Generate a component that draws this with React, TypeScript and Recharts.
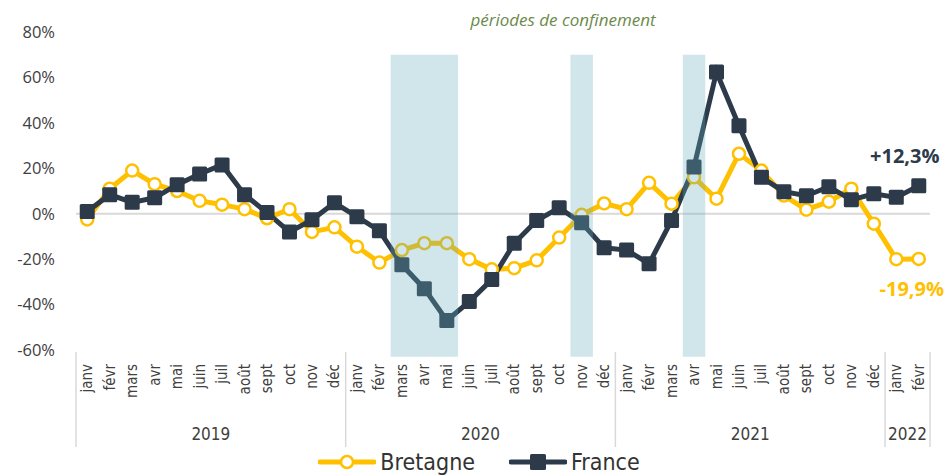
import React from 'react';
import {
  LineChart,
  Line,
  XAxis,
  YAxis,
  ReferenceArea,
  ReferenceLine,
} from 'recharts';

const monthNames = ['janv', 'févr', 'mars', 'avr', 'mai', 'juin', 'juil', 'août', 'sept', 'oct', 'nov', 'déc'];
const years = ['2019', '2020', '2021', '2022'];
const monthsPerYear = [12, 12, 12, 2];

// variation annuelle, en %
const bretagne = [
  -2.5, 11, 19, 13, 10, 5.7, 4, 2, -2, 2, -8, -6,
  -14.5, -21.5, -16, -13, -13, -20, -24.5, -24, -20.5, -10.5, -0.5, 4.5,
  2, 13.6, 4.4, 16, 6.6, 26.4, 19, 8, 1.8, 5.3, 11, -4.4,
  -20, -19.9,
];
const france = [
  1, 8.4, 5, 7, 12.8, 17.5, 21.5, 8.4, 0.5, -8, -2.7, 4.8,
  -1.3, -7.5, -22.5, -33, -47, -38.7, -29, -13, -3, 2.6, -4, -15,
  -16, -22, -3, 20.6, 62.4, 38.7, 16, 9.7, 7.9, 11.9, 6.1, 8.8,
  7.2, 12.3,
];
const yTicks = [-60, -40, -20, 0, 20, 40, 60, 80];
const lockdowns = [
  ['mars 2020', 'mai 2020'],
  ['nov 2020', 'nov 2020'],
  ['avr 2021', 'avr 2021'],
];
const lastLabels = { bretagne: '-19,9%', france: '+12,3%' };

const W = 946;
const H = 476;
const margin = { top: 32, right: 16, bottom: 0, left: 16 };
const yAxisWidth = 60;

const data = years.flatMap((year, yi) =>
  monthNames.slice(0, monthsPerYear[yi]).map((m, mi) => {
    const i = yi * 12 + mi;
    return { key: `${m} ${year}`, month: m, year, bretagne: bretagne[i], france: france[i] };
  })
);

const plotWidth = W - margin.left - margin.right - yAxisWidth;
const bw = plotWidth / data.length;

const YELLOW = '#FFC000';
const DARK = '#2D3A4A';
const NARROW = '"DejaVu Sans Condensed", "Open Sans", sans-serif';

const MonthTick = (props: any) => {
  const { x, y, payload } = props;
  const i = payload.index;
  const row = data[i];
  const els: React.ReactNode[] = [];
  els.push(
    <text
      key="m"
      transform={`translate(${x},${y + 6}) rotate(-90)`}
      textAnchor="end"
      dominantBaseline="central"
      fontFamily={NARROW}
      fontSize={15}
      fill="#404040"
    >
      {row.month}
    </text>
  );
  const yi = years.indexOf(row.year);
  if (monthNames.indexOf(row.month) === 0) {
    const start = x - bw / 2;
    els.push(<line key="d" x1={start} x2={start} y1={y - 6} y2={y + 89} stroke="#d9d9d9" strokeWidth={1.5} />);
    els.push(
      <text
        key="y"
        x={start + (monthsPerYear[yi] * bw) / 2}
        y={y + 76}
        textAnchor="middle"
        dominantBaseline="central"
        fontFamily={NARROW}
        fontSize={17}
        fill="#404040"
      >
        {row.year}
      </text>
    );
  }
  if (i === data.length - 1) {
    els.push(<line key="e" x1={x + bw / 2} x2={x + bw / 2} y1={y - 6} y2={y + 89} stroke="#d9d9d9" strokeWidth={1.5} />);
  }
  return <g>{els}</g>;
};

const SquareDot = (props: any) => {
  const { cx, cy } = props;
  if (cx == null || cy == null) return null;
  return <rect x={cx - 7.5} y={cy - 7.5} width={15} height={15} rx={1.5} fill={DARK} />;
};

const endLabel = (text: string, color: string, dx: number, dy: number) => (props: any) => {
  const { x, y, index } = props;
  if (index !== data.length - 1) return null;
  return (
    <text
      x={x + dx}
      y={y + dy}
      textAnchor="middle"
      dominantBaseline="central"
      fontFamily='"Open Sans", sans-serif'
      fontWeight={700}
      fontSize={20}
      fill={color}
    >
      {text}
    </text>
  );
};

const ChartLegend = () => (
  <div
    style={{
      position: 'absolute',
      top: 449,
      left: 0,
      width: W,
      paddingLeft: 12,
      boxSizing: 'border-box',
      display: 'flex',
      justifyContent: 'center',
      alignItems: 'center',
      fontFamily: NARROW,
      fontSize: 23,
      color: '#333',
      lineHeight: '26px',
    }}
  >
    <svg width={58} height={20} style={{ marginRight: 4 }}>
      <line x1={2} x2={56} y1={10} y2={10} stroke={YELLOW} strokeWidth={5} strokeLinecap="round" />
      <circle cx={29} cy={10} r={6} fill="#fff" stroke={YELLOW} strokeWidth={2.5} />
    </svg>
    <span style={{ marginRight: 34 }}>Bretagne</span>
    <svg width={58} height={20} style={{ marginRight: 4 }}>
      <line x1={2} x2={56} y1={10} y2={10} stroke={DARK} strokeWidth={5} strokeLinecap="round" />
      <rect x={21} y={2} width={16} height={16} rx={1.5} fill={DARK} />
    </svg>
    <span>France</span>
  </div>
);

export default function App() {
  return (
    <div style={{ position: 'absolute', left: 0, top: 0, width: W, height: H, background: '#fff', overflow: 'hidden' }}>
      <div
        style={{
          position: 'absolute',
          top: 8,
          left: 0,
          width: W,
          paddingLeft: 180,
          boxSizing: 'border-box',
          textAlign: 'center',
          fontFamily: '"Open Sans", sans-serif',
          fontStyle: 'italic',
          fontSize: 17,
          color: '#6b8a4a',
        }}
      >
        périodes de confinement
      </div>
      <LineChart width={W} height={H} data={data} margin={margin}>
        <XAxis
          dataKey="key"
          scale="band"
          interval={0}
          tick={<MonthTick />}
          tickLine={false}
          axisLine={false}
          height={126}
        />
        <YAxis
          domain={[-60, 80]}
          ticks={yTicks}
          tickFormatter={(v: number) => `${v}%`}
          tickLine={false}
          axisLine={false}
          tickMargin={15}
          width={yAxisWidth}
          tick={{ fontFamily: '"Open Sans", sans-serif', fontSize: 16.5, fill: '#404040' }}
        />
        <ReferenceLine y={0} stroke="#d9d9d9" strokeWidth={2} />
        <Line
          dataKey="bretagne"
          name="Bretagne"
          stroke={YELLOW}
          strokeWidth={5}
          dot={{ r: 6, fill: '#fff', stroke: YELLOW, strokeWidth: 2.5 }}
          activeDot={false}
          isAnimationActive={false}
          label={endLabel(lastLabels.bretagne, YELLOW, -7, 30)}
        />
        <Line
          dataKey="france"
          name="France"
          stroke={DARK}
          strokeWidth={5}
          dot={<SquareDot />}
          activeDot={false}
          isAnimationActive={false}
          label={endLabel(lastLabels.france, DARK, -14, -30)}
        />
        {lockdowns.map(([a, b]) => (
          <ReferenceArea
            key={a}
            x1={a}
            x2={b}
            y1={-63}
            y2={70}
            ifOverflow="visible"
            fill="#62acbc"
            fillOpacity={0.3}
            stroke="none"
            zIndex={1000}
          />
        ))}
      </LineChart>
      <ChartLegend />
    </div>
  );
}
